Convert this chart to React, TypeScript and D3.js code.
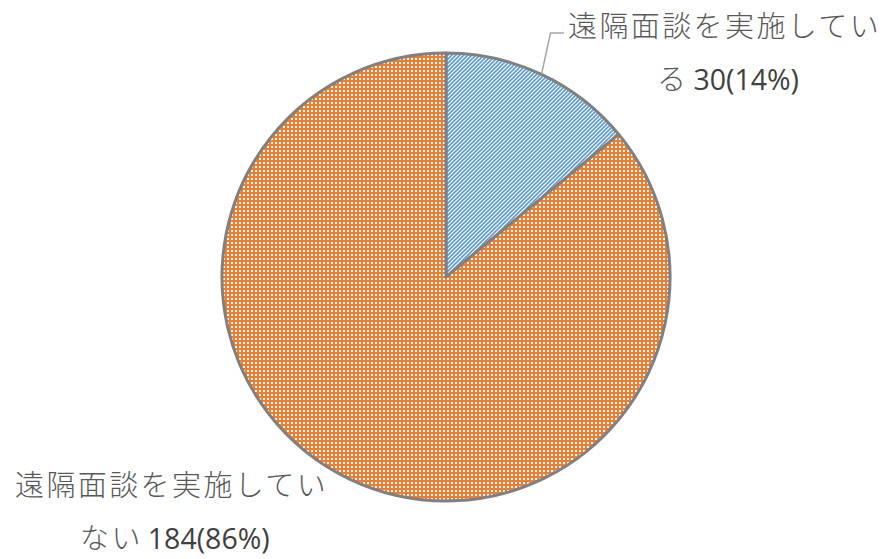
import { useEffect, useRef } from "react"
import * as d3 from "d3"

const categories = ["遠隔面談を実施している", "遠隔面談を実施していない"]
const counts = [30, 184]
const percents = ["14%", "86%"]
const labelLines = [
  ["遠隔面談を実施してい", "る"],
  ["遠隔面談を実施してい", "ない"],
]

export default function App() {
  const svgRef = useRef<SVGSVGElement>(null)

  useEffect(() => {
    if (!svgRef.current) return
    const svg = d3.select(svgRef.current)
    svg.selectAll("*").remove()

    const width = 891
    const height = 559
    const cx = 446
    const cy = 277
    const r = 224

    const defs = svg.append("defs")

    // wide upward diagonal (blue)
    const pBlue = defs
      .append("pattern")
      .attr("id", "pat-blue")
      .attr("patternUnits", "userSpaceOnUse")
      .attr("width", 4)
      .attr("height", 4)
    pBlue.append("rect").attr("width", 4).attr("height", 4).attr("fill", "#fff")
    pBlue
      .append("path")
      .attr("d", "M-1,1 L1,-1 M0,4 L4,0 M3,5 L5,3")
      .attr("stroke", "#5B9BD5")
      .attr("stroke-width", 1.6)

    // dotted grid (orange)
    const pOrange = defs
      .append("pattern")
      .attr("id", "pat-orange")
      .attr("patternUnits", "userSpaceOnUse")
      .attr("width", 4)
      .attr("height", 4)
    pOrange.append("rect").attr("width", 4).attr("height", 4).attr("fill", "#ED7D31")
    pOrange.append("rect").attr("x", 1).attr("y", 1).attr("width", 2).attr("height", 2).attr("fill", "#fff")

    const fills = ["url(#pat-blue)", "url(#pat-orange)"]

    const pie = d3.pie<number>().sort(null).value((d) => d)
    const arcs = pie(counts)
    const arc = d3.arc<d3.PieArcDatum<number>>().innerRadius(0).outerRadius(r)

    const g = svg.append("g").attr("transform", `translate(${cx},${cy})`)

    g.selectAll("path.slice")
      .data(arcs)
      .enter()
      .append("path")
      .attr("class", "slice")
      .attr("d", arc)
      .attr("fill", (d, i) => fills[i])
      .attr("stroke", "#808080")
      .attr("stroke-width", 3)
      .attr("stroke-linejoin", "round")

    // leader line for the small slice
    const mid = (arcs[0].startAngle + arcs[0].endAngle) / 2
    const ex = cx + Math.sin(mid) * r
    const ey = cy - Math.cos(mid) * r
    svg
      .append("polyline")
      .attr("points", `${ex},${ey} ${ex + 9},${33} ${564},${33}`)
      .attr("fill", "none")
      .attr("stroke", "#a6a6a6")
      .attr("stroke-width", 1.5)

    const labelPos = [
      { x1: 568, y1: 37, x2: 657, y2: 90 },
      { x1: 15, y1: 496, x2: 80, y2: 549 },
    ]

    const cjk = "'Noto Sans CJK JP', sans-serif"
    const num = "'Open Sans', 'Liberation Sans', sans-serif"

    labelLines.forEach((lines, i) => {
      const p = labelPos[i]
      svg
        .append("text")
        .attr("x", p.x1)
        .attr("y", p.y1)
        .attr("font-family", cjk)
        .attr("font-size", 29)
        .attr("font-weight", 300)
        .attr("letter-spacing", 2.4)
        .attr("fill", "#595959")
        .text(lines[0])
      const t = svg
        .append("text")
        .attr("x", p.x2)
        .attr("y", p.y2)
        .attr("fill", "#595959")
        .attr("font-size", 28.5)
      t.append("tspan")
        .attr("font-family", cjk)
        .attr("font-weight", 300)
        .attr("font-size", 29)
        .attr("letter-spacing", 2.4)
        .text(lines[1])
      t.append("tspan")
        .attr("font-family", num)
        .attr("fill", "#404040")
        .attr("dx", 5)
        .text(`${counts[i]}(${percents[i]})`)
    })

    svg.attr("width", width).attr("height", height)
    svg.attr("aria-label", categories.join(" / "))
  }, [])

  return (
    <svg
      ref={svgRef}
      width={891}
      height={559}
      style={{ position: "absolute", left: 0, top: 0, background: "#fff" }}
    />
  )
}
